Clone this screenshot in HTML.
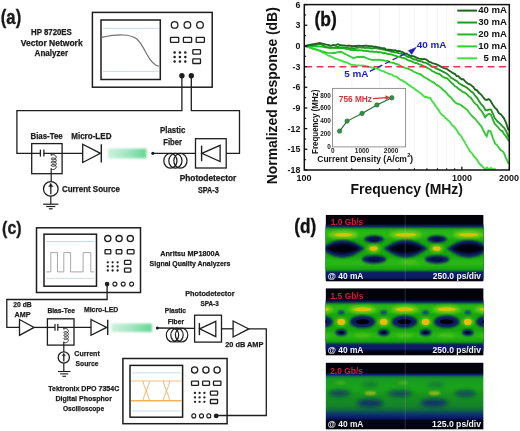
<!DOCTYPE html><html><head><meta charset="utf-8"><style>html,body{margin:0;padding:0;background:#fff;font-family:"Liberation Sans",sans-serif;}svg{display:block;will-change:transform;}</style></head><body>
<svg width="520" height="431" viewBox="0 0 520 431" font-family="Liberation Sans, sans-serif">
<defs>
<linearGradient id="gbar" x1="0" x2="1" y1="0" y2="0">
<stop offset="0" stop-color="#cdf1dd"/><stop offset="0.5" stop-color="#a2e5c0"/><stop offset="1" stop-color="#62d794"/></linearGradient>
<filter id="soft" x="-20%" y="-50%" width="140%" height="200%"><feGaussianBlur stdDeviation="0.7"/></filter>
<filter id="blur1" x="-20%" y="-50%" width="140%" height="200%"><feGaussianBlur stdDeviation="1.2"/></filter>
<filter id="blur2" x="-30%" y="-80%" width="160%" height="260%"><feGaussianBlur stdDeviation="2.2"/></filter>
<filter id="blur3" x="-30%" y="-80%" width="160%" height="260%"><feGaussianBlur stdDeviation="1.6"/></filter>
</defs>
<rect width="520" height="431" fill="#fff"/>
<text x="0.8" y="23.6" font-size="19.4" font-weight="bold" fill="#1a1a1a" textLength="20.4" lengthAdjust="spacingAndGlyphs" stroke="#1a1a1a" stroke-width="0.35">(a)</text>
<text x="51.4" y="34.8" font-size="8.2" font-weight="bold" fill="#1a1a1a" text-anchor="middle" textLength="40.8" lengthAdjust="spacingAndGlyphs" stroke="#1a1a1a" stroke-width="0.25">HP 8720ES</text>
<text x="51.7" y="45.6" font-size="8.2" font-weight="bold" fill="#1a1a1a" text-anchor="middle" textLength="61.9" lengthAdjust="spacingAndGlyphs" stroke="#1a1a1a" stroke-width="0.25">Vector Network</text>
<text x="51.4" y="55.8" font-size="8.2" font-weight="bold" fill="#1a1a1a" text-anchor="middle" textLength="33.7" lengthAdjust="spacingAndGlyphs" stroke="#1a1a1a" stroke-width="0.25">Analyzer</text>
<rect x="92.4" y="12.4" width="119.80" height="74.80" stroke="#1e1e1e" stroke-width="1.5" fill="none" rx="0"/>
<rect x="101" y="20" width="59.30" height="59.50" stroke="#1e1e1e" stroke-width="1.5" fill="none" rx="0"/>
<line x1="103" y1="28.4" x2="158.5" y2="28.4" stroke="#c6dde8" stroke-width="1"/>
<line x1="103" y1="71.4" x2="158.5" y2="71.4" stroke="#c6dde8" stroke-width="1"/>
<path d="M101.7,37.4 C110,35.6 117,34.8 123,35 C129,35.2 133,36.2 136.5,38.8 C141,42.5 144,49 147,54.5 C150,60 154,65.5 158.8,66.2" stroke="#707070" stroke-width="1.2" fill="none"/>
<circle cx="174.6" cy="24.9" r="3.3" stroke="#1e1e1e" stroke-width="1.3" fill="none"/>
<circle cx="187.4" cy="24.9" r="3.3" stroke="#1e1e1e" stroke-width="1.3" fill="none"/>
<circle cx="200" cy="24.9" r="3.3" stroke="#1e1e1e" stroke-width="1.3" fill="none"/>
<rect x="170.5" y="37.4" width="8.20" height="5.00" stroke="#1e1e1e" stroke-width="1.3" fill="none" rx="0.6"/>
<rect x="183.4" y="37.4" width="8.20" height="5.00" stroke="#1e1e1e" stroke-width="1.3" fill="none" rx="0.6"/>
<rect x="196.2" y="37.4" width="8.20" height="5.00" stroke="#1e1e1e" stroke-width="1.3" fill="none" rx="0.6"/>
<circle cx="174.6" cy="52.4" r="1.25" fill="#1e1e1e"/>
<circle cx="174.6" cy="56.9" r="1.25" fill="#1e1e1e"/>
<circle cx="174.6" cy="61.4" r="1.25" fill="#1e1e1e"/>
<circle cx="179.9" cy="52.4" r="1.25" fill="#1e1e1e"/>
<circle cx="179.9" cy="56.9" r="1.25" fill="#1e1e1e"/>
<circle cx="179.9" cy="61.4" r="1.25" fill="#1e1e1e"/>
<circle cx="185.3" cy="52.4" r="1.25" fill="#1e1e1e"/>
<circle cx="185.3" cy="56.9" r="1.25" fill="#1e1e1e"/>
<circle cx="185.3" cy="61.4" r="1.25" fill="#1e1e1e"/>
<rect x="192.8" y="49.7" width="7.70" height="4.40" stroke="#1e1e1e" stroke-width="1.3" fill="none" rx="0.6"/>
<rect x="192.8" y="58.9" width="7.70" height="4.60" stroke="#1e1e1e" stroke-width="1.3" fill="none" rx="0.6"/>
<circle cx="181.9" cy="75.7" r="2.7" fill="#1e1e1e"/>
<circle cx="191.3" cy="75.7" r="2.7" fill="#1e1e1e"/>
<polyline points="181.90,75.70 181.90,110.70 16.90,110.70 16.90,153.30 40.40,153.30" stroke="#1e1e1e" stroke-width="1.3" fill="none" stroke-linejoin="miter"/>
<line x1="43.9" y1="153.3" x2="82.7" y2="153.3" stroke="#1e1e1e" stroke-width="1.3"/>
<polyline points="191.30,75.70 191.30,110.70 239.50,110.70 239.50,153.30 226.20,153.30" stroke="#1e1e1e" stroke-width="1.3" fill="none" stroke-linejoin="miter"/>
<rect x="31.7" y="143.6" width="30.40" height="30.10" stroke="#1e1e1e" stroke-width="1.3" fill="none" rx="0"/>
<line x1="40.4" y1="149.6" x2="40.4" y2="156.6" stroke="#1e1e1e" stroke-width="1.3"/>
<line x1="43.9" y1="149.6" x2="43.9" y2="156.6" stroke="#1e1e1e" stroke-width="1.3"/>
<line x1="51.2" y1="153.3" x2="51.2" y2="155.2" stroke="#1e1e1e" stroke-width="1.1"/>
<polyline points="51.20,155.60 51.26,155.35 51.45,155.13 51.75,154.94 52.14,154.79 52.62,154.72 53.14,154.71 53.70,154.79 54.26,154.94 54.78,155.18 55.26,155.49 55.65,155.86 55.95,156.29 56.14,156.75 56.20,157.22 56.14,157.70 55.95,158.16 55.65,158.59 55.26,158.96 54.78,159.27 54.26,159.51 53.70,159.66 53.14,159.74 52.62,159.73 52.14,159.66 51.75,159.51 51.45,159.32 51.26,159.10 51.20,158.85 51.26,158.60 51.45,158.38 51.75,158.19 52.14,158.04 52.62,157.97 53.14,157.96 53.70,158.04 54.26,158.19 54.78,158.43 55.26,158.74 55.65,159.11 55.95,159.54 56.14,160.00 56.20,160.47 56.14,160.95 55.95,161.41 55.65,161.84 55.26,162.21 54.78,162.52 54.26,162.76 53.70,162.91 53.14,162.99 52.62,162.98 52.14,162.91 51.75,162.76 51.45,162.57 51.26,162.35 51.20,162.10 51.26,161.85 51.45,161.63 51.75,161.44 52.14,161.29 52.62,161.22 53.14,161.21 53.70,161.29 54.26,161.44 54.78,161.68 55.26,161.99 55.65,162.36 55.95,162.79 56.14,163.25 56.20,163.72 56.14,164.20 55.95,164.66 55.65,165.09 55.26,165.46 54.78,165.77 54.26,166.01 53.70,166.16 53.14,166.24 52.62,166.23 52.14,166.16 51.75,166.01 51.45,165.82 51.26,165.60 51.20,165.35 51.26,165.10 51.45,164.88 51.75,164.69 52.14,164.54 52.62,164.47 53.14,164.46 53.70,164.54 54.26,164.69 54.78,164.93 55.26,165.24 55.65,165.61 55.95,166.04 56.14,166.50 56.20,166.97 56.14,167.45 55.95,167.91 55.65,168.34 55.26,168.71 54.78,169.02 54.26,169.26 53.70,169.41 53.14,169.49 52.62,169.48 52.14,169.41 51.75,169.26 51.45,169.07 51.26,168.85 51.20,168.60" stroke="#1e1e1e" stroke-width="1.0" fill="none"/>
<line x1="51.2" y1="168.4" x2="51.2" y2="181.5" stroke="#1e1e1e" stroke-width="1.2"/>
<circle cx="50.8" cy="188.9" r="7.3" stroke="#1e1e1e" stroke-width="1.3" fill="none"/>
<line x1="50.8" y1="194.156" x2="50.8" y2="186.345" stroke="#1e1e1e" stroke-width="1.3"/>
<polygon points="50.80,183.06 48.61,186.71 52.99,186.71" stroke="#1e1e1e" stroke-width="0.3" fill="#1e1e1e" stroke-linejoin="miter"/>
<line x1="50.8" y1="196.2" x2="50.8" y2="204.2" stroke="#1e1e1e" stroke-width="1.2"/>
<line x1="43.199999999999996" y1="204.2" x2="58.4" y2="204.2" stroke="#1e1e1e" stroke-width="1.2"/>
<line x1="46.25" y1="206.5" x2="55.349999999999994" y2="206.5" stroke="#1e1e1e" stroke-width="1.2"/>
<line x1="48.9" y1="208.79999999999998" x2="52.699999999999996" y2="208.79999999999998" stroke="#1e1e1e" stroke-width="1.2"/>
<text x="30.5" y="139.4" font-size="8.2" font-weight="bold" fill="#1a1a1a" textLength="32.2" lengthAdjust="spacingAndGlyphs" stroke="#1a1a1a" stroke-width="0.25">Bias-Tee</text>
<text x="71.2" y="139.4" font-size="8.2" font-weight="bold" fill="#1a1a1a" textLength="40.3" lengthAdjust="spacingAndGlyphs" stroke="#1a1a1a" stroke-width="0.25">Micro-LED</text>
<text x="61.9" y="192" font-size="8.2" font-weight="bold" fill="#1a1a1a" textLength="58" lengthAdjust="spacingAndGlyphs" stroke="#1a1a1a" stroke-width="0.25">Current Source</text>
<polygon points="82.70,144.20 82.70,162.50 100.40,153.30" stroke="#1e1e1e" stroke-width="1.3" fill="none" stroke-linejoin="miter"/>
<line x1="101.3" y1="144.2" x2="101.3" y2="162.5" stroke="#1e1e1e" stroke-width="1.4"/>
<rect x="108" y="148.6" width="38.5" height="9.8" fill="url(#gbar)" filter="url(#blur1)"/>
<circle cx="152.9" cy="153.3" r="1.6" fill="#1e1e1e"/>
<line x1="152.9" y1="153.3" x2="195.5" y2="153.3" stroke="#1e1e1e" stroke-width="1.3"/>
<ellipse cx="170.4" cy="160.8" rx="6.6" ry="7.4" stroke="#1e1e1e" stroke-width="1.25" fill="none"/>
<ellipse cx="175.4" cy="160.8" rx="6.6" ry="7.4" stroke="#1e1e1e" stroke-width="1.25" fill="none"/>
<ellipse cx="180.4" cy="160.8" rx="6.6" ry="7.4" stroke="#1e1e1e" stroke-width="1.25" fill="none"/>
<rect x="195.5" y="138.7" width="30.70" height="29.30" stroke="#1e1e1e" stroke-width="1.3" fill="none" rx="0"/>
<line x1="201.6" y1="145.6" x2="201.6" y2="161.2" stroke="#1e1e1e" stroke-width="1.4"/>
<polygon points="201.80,153.30 220.10,145.30 220.10,161.50" stroke="#1e1e1e" stroke-width="1.3" fill="none" stroke-linejoin="miter"/>
<text x="160.1" y="133.1" font-size="8.2" font-weight="bold" fill="#1a1a1a" textLength="25.3" lengthAdjust="spacingAndGlyphs" stroke="#1a1a1a" stroke-width="0.25">Plastic</text>
<text x="163.2" y="144.6" font-size="8.2" font-weight="bold" fill="#1a1a1a" textLength="18.8" lengthAdjust="spacingAndGlyphs" stroke="#1a1a1a" stroke-width="0.25">Fiber</text>
<text x="179.7" y="180.8" font-size="8.2" font-weight="bold" fill="#1a1a1a" textLength="56.6" lengthAdjust="spacingAndGlyphs" stroke="#1a1a1a" stroke-width="0.25">Photodetector</text>
<text x="197.9" y="192.6" font-size="8.2" font-weight="bold" fill="#1a1a1a" textLength="20.8" lengthAdjust="spacingAndGlyphs" stroke="#1a1a1a" stroke-width="0.25">SPA-3</text>
<line x1="351.74" y1="5.6" x2="351.74" y2="169.0" stroke="#efefef" stroke-width="0.6"/>
<line x1="379.49" y1="5.6" x2="379.49" y2="169.0" stroke="#efefef" stroke-width="0.6"/>
<line x1="399.18" y1="5.6" x2="399.18" y2="169.0" stroke="#efefef" stroke-width="0.6"/>
<line x1="414.46" y1="5.6" x2="414.46" y2="169.0" stroke="#efefef" stroke-width="0.6"/>
<line x1="426.94" y1="5.6" x2="426.94" y2="169.0" stroke="#efefef" stroke-width="0.6"/>
<line x1="437.49" y1="5.6" x2="437.49" y2="169.0" stroke="#efefef" stroke-width="0.6"/>
<line x1="446.63" y1="5.6" x2="446.63" y2="169.0" stroke="#efefef" stroke-width="0.6"/>
<line x1="454.69" y1="5.6" x2="454.69" y2="169.0" stroke="#efefef" stroke-width="0.6"/>
<line x1="461.90" y1="5.6" x2="461.90" y2="169.0" stroke="#efefef" stroke-width="0.6"/>
<clipPath id="plotclip"><rect x="304.3" y="4.6" width="205.0" height="165.4"/></clipPath>
<g clip-path="url(#plotclip)" stroke-linejoin="round" stroke-linecap="round">
<polyline points="304.80,46.00 306.60,46.49 308.40,46.98 310.20,47.80 312.00,48.09 313.60,48.90 315.20,49.39 316.80,49.82 318.40,50.62 320.00,50.97 321.75,52.07 323.50,52.78 325.25,53.70 327.00,54.76 328.60,55.68 330.20,56.05 331.80,56.82 333.40,57.75 335.00,58.64 336.60,59.02 338.20,59.51 339.80,60.42 341.40,60.48 343.00,61.52 344.60,61.78 346.28,62.39 347.95,63.07 349.62,63.88 351.30,64.90 353.23,64.67 355.15,65.10 357.07,65.32 359.00,65.31 360.67,65.63 362.33,65.50 364.00,65.69 366.35,66.19 368.70,66.93 370.85,67.25 373.00,67.66 374.77,68.33 376.53,68.70 378.30,69.04 379.98,70.16 381.65,70.81 383.32,71.16 385.00,72.16 386.68,72.75 388.35,73.67 390.02,74.17 391.70,74.41 393.85,76.13 396.00,76.45 398.05,78.08 400.10,79.74 401.73,80.11 403.37,81.36 405.00,81.86 406.67,83.53 408.33,84.69 410.00,85.57 411.88,87.25 413.75,88.06 415.62,89.82 417.50,91.10 419.38,92.46 421.25,93.70 423.12,95.49 425.00,96.98 426.67,97.04 428.33,97.81 430.00,97.71 431.70,100.56 433.40,102.63 435.10,105.16 436.80,107.74 438.50,109.88 440.20,112.77 441.90,114.80 443.60,115.73 445.30,117.95 447.00,119.30 448.70,120.93 450.40,122.55 452.13,125.37 453.87,126.50 455.60,128.58 457.30,131.09 459.00,134.05 460.70,135.36 462.40,138.40 464.10,141.10 465.80,144.11 467.90,147.63 470.00,151.29 472.00,153.35 474.00,156.38 475.80,158.20 477.60,160.84 479.50,163.80 481.40,165.50 483.30,167.33 485.20,169.21 487.00,167.61 489.00,169.58 491.00,167.93 493.00,169.25 495.00,169.05" stroke="#40e040" stroke-width="1.85" fill="none" stroke-linejoin="miter"/>
<polyline points="304.80,46.00 306.60,46.51 308.40,47.03 310.20,47.68 312.00,48.43 313.60,48.78 315.20,49.17 316.80,49.70 318.40,50.21 320.00,50.38 322.00,51.37 324.00,51.87 326.00,52.49 328.00,52.90 330.00,53.15 331.67,53.05 333.33,52.79 335.00,52.97 336.93,52.33 338.87,51.99 340.80,51.74 342.70,52.65 344.60,53.71 346.80,54.73 349.00,55.89 351.15,56.98 353.30,57.94 355.20,57.61 357.10,56.88 359.00,56.95 360.60,56.95 362.20,56.79 363.80,57.02 365.43,57.72 367.07,58.37 368.70,58.82 370.85,59.61 373.00,59.98 374.77,59.74 376.53,59.92 378.30,59.77 379.98,59.90 381.65,60.22 383.32,60.28 385.00,60.87 386.60,60.75 388.20,61.06 389.80,62.29 391.87,62.62 393.93,62.99 396.00,64.04 397.93,64.29 399.85,65.48 401.77,66.62 403.70,67.25 405.80,68.06 407.90,68.60 410.00,69.67 411.88,70.32 413.75,71.78 415.62,72.38 417.50,73.49 419.38,73.97 421.25,74.81 423.12,76.38 425.00,77.52 426.80,78.53 428.60,79.64 430.40,80.80 432.20,81.87 433.90,82.59 435.60,84.22 437.30,85.33 439.00,86.25 440.95,87.82 442.90,89.69 444.85,91.24 446.80,93.33 448.90,95.86 451.00,97.43 453.00,100.15 455.00,102.32 457.00,103.55 459.00,104.06 461.00,105.14 463.07,106.71 465.13,108.23 467.20,109.80 469.13,112.47 471.07,114.95 473.00,116.97 475.13,118.87 477.27,121.51 479.40,124.12 481.20,126.01 483.00,129.73 484.85,133.29 486.70,136.31 488.50,130.57 490.40,130.97 493.00,138.52 495.20,143.64 497.10,145.10 499.00,147.96 500.60,150.03 502.20,150.94 503.80,152.75 506.00,158.20 508.40,163.06" stroke="#30cc30" stroke-width="1.85" fill="none" stroke-linejoin="miter"/>
<polyline points="304.80,46.00 306.60,45.86 308.40,45.86 310.20,45.90 312.00,46.30 313.90,46.28 315.80,45.97 317.70,46.34 319.60,46.44 321.40,46.68 323.20,46.93 325.00,47.42 326.67,47.35 328.33,47.42 330.00,48.04 331.67,47.91 333.33,47.88 335.00,48.13 336.80,47.83 338.60,48.04 340.40,47.98 342.70,48.13 345.00,48.65 346.97,49.04 348.93,49.37 350.90,49.95 352.60,49.81 354.30,49.98 356.00,49.86 357.77,50.47 359.53,50.20 361.30,50.37 363.65,50.71 366.00,51.19 367.93,51.04 369.87,51.61 371.80,51.50 373.44,51.72 375.08,51.92 376.72,51.72 378.36,52.25 380.00,52.24 381.63,52.36 383.27,53.28 384.90,53.03 386.53,53.54 388.17,54.03 389.80,54.15 391.87,54.55 393.93,55.32 396.00,55.95 397.93,56.74 399.85,56.68 401.77,57.68 403.70,57.96 405.80,58.85 407.90,60.20 410.00,60.81 411.75,61.46 413.50,62.26 415.25,63.02 417.00,63.14 418.78,64.08 420.56,64.73 422.34,65.49 424.12,66.45 425.90,66.95 427.93,68.20 429.97,69.31 432.00,71.00 433.75,71.60 435.50,72.68 437.25,73.64 439.00,73.72 440.95,75.20 442.90,76.78 444.85,77.78 446.80,78.06 448.90,80.04 451.00,82.43 453.00,84.01 455.00,86.27 457.00,87.26 459.00,89.22 461.00,90.57 463.07,92.12 465.13,92.54 467.20,94.69 469.13,96.65 471.07,97.98 473.00,101.03 475.13,103.65 477.27,105.11 479.40,108.64 481.33,110.72 483.27,113.72 485.20,117.31 487.50,114.49 489.20,113.85 490.90,114.60 492.80,119.47 494.70,123.96 496.60,125.64 498.50,127.72 500.40,130.24 502.30,131.05 504.15,134.23 506.00,136.41 508.60,140.53" stroke="#24b424" stroke-width="1.85" fill="none" stroke-linejoin="miter"/>
<polyline points="304.80,46.00 306.53,45.65 308.27,45.53 310.00,45.21 311.67,44.75 313.33,44.98 315.00,44.64 316.67,44.57 318.33,43.97 320.00,43.88 323.00,45.27 325.35,46.74 327.70,47.59 329.47,47.41 331.23,47.46 333.00,47.61 334.67,47.44 336.33,47.00 338.00,46.81 339.75,47.43 341.50,47.44 343.25,47.72 345.00,47.56 346.73,47.66 348.45,48.17 350.17,48.13 351.90,48.03 353.95,48.33 356.00,47.89 358.00,47.85 360.00,47.22 361.60,47.85 363.20,47.40 364.80,48.06 366.40,47.87 368.00,47.88 369.98,48.11 371.95,48.47 373.92,48.05 375.90,48.01 377.67,48.70 379.45,48.84 381.23,49.11 383.00,49.52 384.70,49.77 386.40,50.25 388.10,50.69 389.80,51.03 391.53,51.83 393.27,51.81 395.00,52.40 397.13,52.67 399.27,53.39 401.40,53.65 403.20,54.56 405.00,55.04 406.75,56.45 408.50,57.00 410.25,57.37 412.00,58.37 414.00,59.54 416.00,59.40 418.00,60.83 419.98,61.00 421.95,61.64 423.92,62.58 425.90,62.68 427.93,63.87 429.97,65.14 432.00,66.54 433.75,66.70 435.50,68.13 437.25,68.86 439.00,69.66 440.95,70.59 442.90,71.72 444.85,72.56 446.80,73.85 448.90,75.37 451.00,77.80 453.00,78.74 455.00,80.17 457.00,81.20 459.00,83.31 461.00,84.48 463.07,85.66 465.13,86.58 467.20,87.95 469.13,89.65 471.07,91.51 473.00,92.73 475.13,95.72 477.27,98.07 479.40,101.65 481.20,104.17 483.00,106.07 485.60,110.23 487.50,110.28 489.20,109.42 490.90,109.59 492.80,113.30 494.70,118.12 496.35,120.11 498.00,122.00 500.15,123.59 502.30,126.11 504.15,127.78 506.00,130.63 508.60,136.85" stroke="#1f9a1f" stroke-width="1.85" fill="none" stroke-linejoin="miter"/>
<polyline points="304.80,46.00 306.60,45.60 308.40,45.07 310.20,44.71 312.00,44.50 313.90,44.04 315.80,43.79 317.70,43.34 319.60,43.03 321.53,43.41 323.47,43.87 325.40,44.39 327.70,44.84 330.00,45.51 331.60,45.63 333.20,44.98 334.80,45.06 336.40,44.80 338.00,44.25 339.93,44.99 341.87,45.32 343.80,45.47 345.42,45.66 347.04,45.83 348.66,45.54 350.28,45.89 351.90,46.00 353.52,46.14 355.14,46.04 356.76,45.98 358.38,45.74 360.00,45.87 361.60,45.85 363.20,45.98 364.80,45.77 366.40,45.74 368.00,45.93 369.98,46.20 371.95,46.10 373.92,46.76 375.90,46.65 377.60,47.10 379.30,47.50 381.00,47.95 382.62,48.22 384.25,48.24 385.88,49.33 387.50,49.71 389.33,49.74 391.17,50.00 393.00,50.34 395.03,50.14 397.07,51.08 399.10,50.97 401.07,51.54 403.03,52.44 405.00,53.62 406.75,53.76 408.50,54.93 410.25,55.82 412.00,55.99 413.70,56.46 415.40,57.13 417.10,57.91 418.80,58.58 420.57,58.80 422.35,59.20 424.12,58.97 425.90,59.42 427.60,60.46 429.30,61.94 431.00,62.38 432.80,63.44 434.60,63.58 436.40,64.39 438.70,65.43 441.00,66.70 442.93,67.56 444.87,68.38 446.80,68.75 448.90,70.42 451.00,71.76 453.00,73.16 455.00,74.12 456.67,76.07 458.33,76.15 460.00,78.12 461.60,79.24 463.20,79.20 464.80,80.95 466.53,82.59 468.27,83.96 470.00,84.43 471.67,85.62 473.33,86.97 475.00,89.42 477.20,90.60 479.40,93.32 481.20,94.59 483.00,97.03 484.85,99.40 486.70,99.96 488.80,99.07 490.40,100.51 492.80,104.68 495.00,107.81 496.95,109.69 498.90,113.31 501.00,114.48 503.80,118.06 506.00,122.72 508.40,129.79" stroke="#1b661c" stroke-width="1.85" fill="none" stroke-linejoin="miter"/>
</g>
<line x1="305.2" y1="66.7" x2="509.3" y2="66.7" stroke="#e0354f" stroke-width="1.6" stroke-dasharray="6.9,4.5"/>
<rect x="304.3" y="4.6" width="205.00" height="165.40" stroke="#111" stroke-width="1.5" fill="none" rx="0"/>
<line x1="304.3" y1="170.00" x2="307.3" y2="170.00" stroke="#111" stroke-width="1.3"/>
<text x="300.3" y="173.00" font-size="8.8" font-weight="bold" fill="#111" text-anchor="end">-18</text>
<line x1="304.3" y1="149.32" x2="307.3" y2="149.32" stroke="#111" stroke-width="1.3"/>
<line x1="304.3" y1="159.66" x2="306.1" y2="159.66" stroke="#111" stroke-width="1.1"/>
<text x="300.3" y="152.32" font-size="8.8" font-weight="bold" fill="#111" text-anchor="end">-15</text>
<line x1="304.3" y1="128.65" x2="307.3" y2="128.65" stroke="#111" stroke-width="1.3"/>
<line x1="304.3" y1="138.99" x2="306.1" y2="138.99" stroke="#111" stroke-width="1.1"/>
<text x="300.3" y="131.65" font-size="8.8" font-weight="bold" fill="#111" text-anchor="end">-12</text>
<line x1="304.3" y1="107.97" x2="307.3" y2="107.97" stroke="#111" stroke-width="1.3"/>
<line x1="304.3" y1="118.31" x2="306.1" y2="118.31" stroke="#111" stroke-width="1.1"/>
<text x="300.3" y="110.97" font-size="8.8" font-weight="bold" fill="#111" text-anchor="end">-9</text>
<line x1="304.3" y1="87.30" x2="307.3" y2="87.30" stroke="#111" stroke-width="1.3"/>
<line x1="304.3" y1="97.64" x2="306.1" y2="97.64" stroke="#111" stroke-width="1.1"/>
<text x="300.3" y="90.30" font-size="8.8" font-weight="bold" fill="#111" text-anchor="end">-6</text>
<line x1="304.3" y1="66.62" x2="307.3" y2="66.62" stroke="#111" stroke-width="1.3"/>
<line x1="304.3" y1="76.96" x2="306.1" y2="76.96" stroke="#111" stroke-width="1.1"/>
<text x="300.3" y="69.62" font-size="8.8" font-weight="bold" fill="#111" text-anchor="end">-3</text>
<line x1="304.3" y1="45.95" x2="307.3" y2="45.95" stroke="#111" stroke-width="1.3"/>
<line x1="304.3" y1="56.29" x2="306.1" y2="56.29" stroke="#111" stroke-width="1.1"/>
<text x="300.3" y="48.95" font-size="8.8" font-weight="bold" fill="#111" text-anchor="end">0</text>
<line x1="304.3" y1="25.27" x2="307.3" y2="25.27" stroke="#111" stroke-width="1.3"/>
<line x1="304.3" y1="35.61" x2="306.1" y2="35.61" stroke="#111" stroke-width="1.1"/>
<text x="300.3" y="28.27" font-size="8.8" font-weight="bold" fill="#111" text-anchor="end">3</text>
<line x1="304.3" y1="4.60" x2="307.3" y2="4.60" stroke="#111" stroke-width="1.3"/>
<line x1="304.3" y1="14.94" x2="306.1" y2="14.94" stroke="#111" stroke-width="1.1"/>
<text x="300.3" y="7.60" font-size="8.8" font-weight="bold" fill="#111" text-anchor="end">6</text>
<line x1="351.74" y1="170.0" x2="351.74" y2="168.2" stroke="#111" stroke-width="1.1"/>
<line x1="379.49" y1="170.0" x2="379.49" y2="168.2" stroke="#111" stroke-width="1.1"/>
<line x1="399.18" y1="170.0" x2="399.18" y2="168.2" stroke="#111" stroke-width="1.1"/>
<line x1="414.46" y1="170.0" x2="414.46" y2="168.2" stroke="#111" stroke-width="1.1"/>
<line x1="426.94" y1="170.0" x2="426.94" y2="168.2" stroke="#111" stroke-width="1.1"/>
<line x1="437.49" y1="170.0" x2="437.49" y2="168.2" stroke="#111" stroke-width="1.1"/>
<line x1="446.63" y1="170.0" x2="446.63" y2="168.2" stroke="#111" stroke-width="1.1"/>
<line x1="454.69" y1="170.0" x2="454.69" y2="168.2" stroke="#111" stroke-width="1.1"/>
<line x1="509.34" y1="170.0" x2="509.34" y2="168.2" stroke="#111" stroke-width="1.1"/>
<line x1="461.90" y1="170.0" x2="461.90" y2="166.8" stroke="#111" stroke-width="1.3"/>
<text x="304.1" y="181.0" font-size="9" font-weight="bold" fill="#111" text-anchor="middle">100</text>
<text x="461.9" y="181.0" font-size="9" font-weight="bold" fill="#111" text-anchor="middle">1000</text>
<text x="509" y="181.0" font-size="9" font-weight="bold" fill="#111" text-anchor="middle">2000</text>
<text x="350.5" y="193.8" font-size="14.5" font-weight="bold" fill="#111" textLength="112.5" lengthAdjust="spacingAndGlyphs">Frequency (MHz)</text>
<text transform="translate(276.7,184.2) rotate(-90)" font-size="15" font-weight="bold" fill="#111" textLength="177" lengthAdjust="spacingAndGlyphs">Normalized Response (dB)</text>
<text x="314.5" y="25.9" font-size="19.3" font-weight="bold" fill="#111" textLength="22.3" lengthAdjust="spacingAndGlyphs" stroke="#111" stroke-width="0.35">(b)</text>
<line x1="457.3" y1="10.60" x2="477.1" y2="10.60" stroke="#1b661c" stroke-width="2"/>
<text x="507" y="13.30" font-size="9.6" font-weight="bold" fill="#111" text-anchor="end">40 mA</text>
<line x1="457.3" y1="22.53" x2="477.1" y2="22.53" stroke="#1f9a1f" stroke-width="2"/>
<text x="507" y="25.23" font-size="9.6" font-weight="bold" fill="#111" text-anchor="end">30 mA</text>
<line x1="457.3" y1="34.46" x2="477.1" y2="34.46" stroke="#24b424" stroke-width="2"/>
<text x="507" y="37.16" font-size="9.6" font-weight="bold" fill="#111" text-anchor="end">20 mA</text>
<line x1="457.3" y1="46.39" x2="477.1" y2="46.39" stroke="#30cc30" stroke-width="2"/>
<text x="507" y="49.09" font-size="9.6" font-weight="bold" fill="#111" text-anchor="end">10 mA</text>
<line x1="457.3" y1="58.32" x2="477.1" y2="58.32" stroke="#40e040" stroke-width="2"/>
<text x="507" y="61.02" font-size="9.6" font-weight="bold" fill="#111" text-anchor="end">5 mA</text>
<text x="416.8" y="48.3" font-size="9.8" font-weight="bold" fill="#2020c0" textLength="29.7" lengthAdjust="spacingAndGlyphs">40 mA</text>
<text x="344.2" y="77.4" font-size="9.8" font-weight="bold" fill="#2020c0" textLength="24.3" lengthAdjust="spacingAndGlyphs">5 mA</text>
<line x1="369.8" y1="71.4" x2="405.2" y2="53.6" stroke="#2020c0" stroke-width="1.3" stroke-dasharray="5.5,3"/>
<polygon points="416.20,47.40 408.40,50.60 411.60,54.40" stroke="#2020c0" stroke-width="0.6" fill="#2020c0" stroke-linejoin="miter"/>
<rect x="332.5" y="88.4" width="73.10" height="58.50" stroke="#8a8a8a" stroke-width="0.9" fill="#fff" rx="0"/>
<text x="330.8" y="149.20" font-size="6.4" font-weight="bold" fill="#222" text-anchor="end">0</text>
<text x="330.8" y="136.28" font-size="6.4" font-weight="bold" fill="#222" text-anchor="end">200</text>
<text x="330.8" y="123.35" font-size="6.4" font-weight="bold" fill="#222" text-anchor="end">400</text>
<text x="330.8" y="110.42" font-size="6.4" font-weight="bold" fill="#222" text-anchor="end">600</text>
<text x="330.8" y="97.50" font-size="6.4" font-weight="bold" fill="#222" text-anchor="end">800</text>
<text x="332.90" y="153.1" font-size="6.5" font-weight="bold" fill="#222" text-anchor="middle">0</text>
<text x="362.00" y="153.1" font-size="6.5" font-weight="bold" fill="#222" text-anchor="middle">1000</text>
<text x="391.10" y="153.1" font-size="6.5" font-weight="bold" fill="#222" text-anchor="middle">2000</text>
<polyline points="339.60,131.10 347.10,121.10 362.00,113.40 376.90,104.90 391.80,97.80" stroke="#1d6b2a" stroke-width="1.1" fill="none" stroke-linejoin="miter"/>
<circle cx="339.6" cy="131.1" r="2.2" fill="#32934a" stroke="#1d5e2a" stroke-width="0.6"/>
<circle cx="347.1" cy="121.1" r="2.2" fill="#32934a" stroke="#1d5e2a" stroke-width="0.6"/>
<circle cx="362.0" cy="113.4" r="2.2" fill="#32934a" stroke="#1d5e2a" stroke-width="0.6"/>
<circle cx="376.9" cy="104.9" r="2.2" fill="#32934a" stroke="#1d5e2a" stroke-width="0.6"/>
<circle cx="391.8" cy="97.8" r="2.2" fill="#32934a" stroke="#1d5e2a" stroke-width="0.6"/>
<text x="338.8" y="101.5" font-size="8.4" font-weight="bold" fill="#d9303a" textLength="33.2" lengthAdjust="spacingAndGlyphs">756 MHz</text>
<line x1="373" y1="98.6" x2="386.5" y2="97.6" stroke="#d9303a" stroke-width="1.1"/>
<polygon points="390.00,97.40 385.50,95.60 385.80,99.60" stroke="#d9303a" stroke-width="0.3" fill="#d9303a" stroke-linejoin="miter"/>
<text x="317.3" y="161.5" font-size="9.3" font-weight="bold" fill="#111" textLength="89.6" lengthAdjust="spacingAndGlyphs">Current Density (A/cm</text>
<text x="407.2" y="157.3" font-size="5.6" font-weight="bold" fill="#111">2</text>
<text x="409.9" y="161.5" font-size="9.3" font-weight="bold" fill="#111">)</text>
<text transform="translate(317.6,154) rotate(-90)" font-size="8.6" font-weight="bold" fill="#111" textLength="64.3" lengthAdjust="spacingAndGlyphs">Frequency (MHz)</text>
<text x="2.1" y="233.6" font-size="19.0" font-weight="bold" fill="#1a1a1a" textLength="19.5" lengthAdjust="spacingAndGlyphs" stroke="#1a1a1a" stroke-width="0.35">(c)</text>
<rect x="36.5" y="227.8" width="104.00" height="64.70" stroke="#1e1e1e" stroke-width="1.5" fill="none" rx="0"/>
<rect x="44" y="234.2" width="52.50" height="52.00" stroke="#1e1e1e" stroke-width="1.5" fill="none" rx="0"/>
<line x1="46" y1="241.5" x2="94.5" y2="241.5" stroke="#c6dde8" stroke-width="1"/>
<line x1="46" y1="278.3" x2="94.5" y2="278.3" stroke="#c6dde8" stroke-width="1"/>
<path d="M46.2,271.9 H50.8 V252.6 H57.5 V271.9 H63.8 V252.6 H70.6 V271.9 H83.1 V252.6 H90.8 V271.9 H94.2" stroke="#a8a8a8" stroke-width="1" fill="none"/>
<circle cx="107.8" cy="238.6" r="3.1" stroke="#1e1e1e" stroke-width="1.3" fill="none"/>
<circle cx="119.1" cy="238.6" r="3.1" stroke="#1e1e1e" stroke-width="1.3" fill="none"/>
<circle cx="130.3" cy="238.6" r="3.1" stroke="#1e1e1e" stroke-width="1.3" fill="none"/>
<rect x="105" y="249.7" width="5.80" height="4.20" stroke="#1e1e1e" stroke-width="1.3" fill="none" rx="0.6"/>
<rect x="116.2" y="249.7" width="5.60" height="4.20" stroke="#1e1e1e" stroke-width="1.3" fill="none" rx="0.6"/>
<rect x="127.3" y="249.7" width="6.70" height="4.20" stroke="#1e1e1e" stroke-width="1.3" fill="none" rx="0.6"/>
<circle cx="107.8" cy="262.3" r="1.15" fill="#1e1e1e"/>
<circle cx="107.8" cy="266.4" r="1.15" fill="#1e1e1e"/>
<circle cx="107.8" cy="270.5" r="1.15" fill="#1e1e1e"/>
<circle cx="112.6" cy="262.3" r="1.15" fill="#1e1e1e"/>
<circle cx="112.6" cy="266.4" r="1.15" fill="#1e1e1e"/>
<circle cx="112.6" cy="270.5" r="1.15" fill="#1e1e1e"/>
<circle cx="117.6" cy="262.3" r="1.15" fill="#1e1e1e"/>
<circle cx="117.6" cy="266.4" r="1.15" fill="#1e1e1e"/>
<circle cx="117.6" cy="270.5" r="1.15" fill="#1e1e1e"/>
<rect x="124.5" y="260.4" width="6.30" height="3.90" stroke="#1e1e1e" stroke-width="1.3" fill="none" rx="0.6"/>
<rect x="124.5" y="268.2" width="6.30" height="4.00" stroke="#1e1e1e" stroke-width="1.3" fill="none" rx="0.6"/>
<circle cx="107.1" cy="284.1" r="2.3" fill="#1e1e1e"/>
<circle cx="114.9" cy="284.1" r="2.0" stroke="#1e1e1e" stroke-width="1.1" fill="none"/>
<circle cx="123.2" cy="284.1" r="2.0" stroke="#1e1e1e" stroke-width="1.1" fill="none"/>
<circle cx="131.6" cy="284.1" r="2.0" stroke="#1e1e1e" stroke-width="1.1" fill="none"/>
<polyline points="107.10,284.10 107.10,299.50 6.80,299.50 6.80,327.40 19.50,327.40" stroke="#1e1e1e" stroke-width="1.3" fill="none" stroke-linejoin="miter"/>
<text x="160.2" y="255.8" font-size="7.6" font-weight="bold" fill="#1a1a1a" textLength="59.6" lengthAdjust="spacingAndGlyphs" stroke="#1a1a1a" stroke-width="0.25">Anritsu MP1800A</text>
<text x="149.6" y="265.7" font-size="7.6" font-weight="bold" fill="#1a1a1a" textLength="80.8" lengthAdjust="spacingAndGlyphs" stroke="#1a1a1a" stroke-width="0.25">Signal Quality Analyzers</text>
<polygon points="19.50,319.50 19.50,335.30 34.10,327.40" stroke="#1e1e1e" stroke-width="1.3" fill="none" stroke-linejoin="miter"/>
<line x1="34.1" y1="327.4" x2="55.0" y2="327.4" stroke="#1e1e1e" stroke-width="1.3"/>
<line x1="57.8" y1="327.4" x2="91" y2="327.4" stroke="#1e1e1e" stroke-width="1.3"/>
<text x="13.2" y="307.4" font-size="7.6" font-weight="bold" fill="#1a1a1a" textLength="18.5" lengthAdjust="spacingAndGlyphs" stroke="#1a1a1a" stroke-width="0.25">20 dB</text>
<text x="14.6" y="317.4" font-size="7.6" font-weight="bold" fill="#1a1a1a" textLength="16" lengthAdjust="spacingAndGlyphs" stroke="#1a1a1a" stroke-width="0.25">AMP</text>
<rect x="47.4" y="318.8" width="26.60" height="26.30" stroke="#1e1e1e" stroke-width="1.3" fill="none" rx="0"/>
<line x1="55.0" y1="324.0" x2="55.0" y2="330.8" stroke="#1e1e1e" stroke-width="1.2"/>
<line x1="57.8" y1="324.0" x2="57.8" y2="330.8" stroke="#1e1e1e" stroke-width="1.2"/>
<line x1="63.8" y1="327.4" x2="63.8" y2="329.2" stroke="#1e1e1e" stroke-width="1.0"/>
<polyline points="63.80,329.40 63.86,329.17 64.03,328.95 64.30,328.77 64.67,328.63 65.10,328.56 65.59,328.55 66.10,328.62 66.61,328.77 67.10,329.00 67.53,329.30 67.90,329.65 68.17,330.06 68.34,330.49 68.40,330.95 68.34,331.41 68.17,331.84 67.90,332.25 67.53,332.60 67.10,332.90 66.61,333.13 66.10,333.27 65.59,333.35 65.10,333.34 64.67,333.27 64.30,333.13 64.03,332.95 63.86,332.73 63.80,332.50 63.86,332.27 64.03,332.05 64.30,331.87 64.67,331.73 65.10,331.66 65.59,331.65 66.10,331.72 66.61,331.87 67.10,332.10 67.53,332.40 67.90,332.75 68.17,333.16 68.34,333.59 68.40,334.05 68.34,334.51 68.17,334.94 67.90,335.35 67.53,335.70 67.10,336.00 66.61,336.23 66.10,336.38 65.59,336.45 65.10,336.44 64.67,336.37 64.30,336.23 64.03,336.05 63.86,335.83 63.80,335.60 63.86,335.37 64.03,335.15 64.30,334.97 64.67,334.83 65.10,334.76 65.59,334.75 66.10,334.82 66.61,334.97 67.10,335.20 67.53,335.50 67.90,335.85 68.17,336.26 68.34,336.69 68.40,337.15 68.34,337.61 68.17,338.04 67.90,338.45 67.53,338.80 67.10,339.10 66.61,339.33 66.10,339.48 65.59,339.55 65.10,339.54 64.67,339.47 64.30,339.33 64.03,339.15 63.86,338.93 63.80,338.70 63.86,338.47 64.03,338.25 64.30,338.07 64.67,337.93 65.10,337.86 65.59,337.85 66.10,337.93 66.61,338.07 67.10,338.30 67.53,338.60 67.90,338.95 68.17,339.36 68.34,339.79 68.40,340.25 68.34,340.71 68.17,341.14 67.90,341.55 67.53,341.90 67.10,342.20 66.61,342.43 66.10,342.58 65.59,342.65 65.10,342.64 64.67,342.57 64.30,342.43 64.03,342.25 63.86,342.03 63.80,341.80" stroke="#1e1e1e" stroke-width="0.9" fill="none"/>
<line x1="63.8" y1="341.8" x2="63.8" y2="351.9" stroke="#1e1e1e" stroke-width="1.2"/>
<circle cx="63.8" cy="357.5" r="5.6" stroke="#1e1e1e" stroke-width="1.3" fill="none"/>
<line x1="63.8" y1="361.532" x2="63.8" y2="355.54" stroke="#1e1e1e" stroke-width="1.3"/>
<polygon points="63.80,353.02 62.12,355.82 65.48,355.82" stroke="#1e1e1e" stroke-width="0.3" fill="#1e1e1e" stroke-linejoin="miter"/>
<line x1="63.8" y1="363.1" x2="63.8" y2="371.5" stroke="#1e1e1e" stroke-width="1.2"/>
<line x1="57.95" y1="371.5" x2="70.45" y2="371.5" stroke="#1e1e1e" stroke-width="1.1"/>
<line x1="60.2" y1="373.9" x2="68.2" y2="373.9" stroke="#1e1e1e" stroke-width="1.1"/>
<line x1="62.400000000000006" y1="376.3" x2="66.0" y2="376.3" stroke="#1e1e1e" stroke-width="1.1"/>
<text x="47.4" y="313" font-size="7.6" font-weight="bold" fill="#1a1a1a" textLength="27.5" lengthAdjust="spacingAndGlyphs" stroke="#1a1a1a" stroke-width="0.25">Bias-Tee</text>
<text x="84" y="312.2" font-size="7.6" font-weight="bold" fill="#1a1a1a" textLength="34.3" lengthAdjust="spacingAndGlyphs" stroke="#1a1a1a" stroke-width="0.25">Micro-LED</text>
<text x="74.3" y="355.8" font-size="7.6" font-weight="bold" fill="#1a1a1a" textLength="25.5" lengthAdjust="spacingAndGlyphs" stroke="#1a1a1a" stroke-width="0.25">Current</text>
<text x="75.6" y="365.9" font-size="7.6" font-weight="bold" fill="#1a1a1a" textLength="22.9" lengthAdjust="spacingAndGlyphs" stroke="#1a1a1a" stroke-width="0.25">Source</text>
<polygon points="91.00,319.50 91.00,335.30 106.60,327.40" stroke="#1e1e1e" stroke-width="1.3" fill="none" stroke-linejoin="miter"/>
<line x1="107.7" y1="319.7" x2="107.7" y2="335.1" stroke="#1e1e1e" stroke-width="1.4"/>
<rect x="111.2" y="323.6" width="40.7" height="8.4" fill="url(#gbar)" filter="url(#blur1)"/>
<circle cx="157.3" cy="328" r="1.5" fill="#1e1e1e"/>
<line x1="157.3" y1="328" x2="194.6" y2="328.4" stroke="#1e1e1e" stroke-width="1.3"/>
<ellipse cx="172.5" cy="335.1" rx="6.2" ry="6.9" stroke="#1e1e1e" stroke-width="1.2" fill="none"/>
<ellipse cx="177.0" cy="335.1" rx="6.2" ry="6.9" stroke="#1e1e1e" stroke-width="1.2" fill="none"/>
<ellipse cx="181.6" cy="335.1" rx="6.2" ry="6.9" stroke="#1e1e1e" stroke-width="1.2" fill="none"/>
<text x="164.8" y="313.3" font-size="7.6" font-weight="bold" fill="#1a1a1a" textLength="21.2" lengthAdjust="spacingAndGlyphs" stroke="#1a1a1a" stroke-width="0.25">Plastic</text>
<text x="167.7" y="323.5" font-size="7.6" font-weight="bold" fill="#1a1a1a" textLength="16.3" lengthAdjust="spacingAndGlyphs" stroke="#1a1a1a" stroke-width="0.25">Fiber</text>
<rect x="194.6" y="315.2" width="26.90" height="26.90" stroke="#1e1e1e" stroke-width="1.3" fill="none" rx="0"/>
<line x1="199.4" y1="323.1" x2="199.4" y2="335.2" stroke="#1e1e1e" stroke-width="1.4"/>
<polygon points="199.60,328.80 215.80,321.30 215.80,336.60" stroke="#1e1e1e" stroke-width="1.3" fill="none" stroke-linejoin="miter"/>
<text x="185.2" y="296.2" font-size="7.6" font-weight="bold" fill="#1a1a1a" textLength="49.4" lengthAdjust="spacingAndGlyphs" stroke="#1a1a1a" stroke-width="0.25">Photodetector</text>
<text x="200.4" y="306.2" font-size="7.6" font-weight="bold" fill="#1a1a1a" textLength="18.3" lengthAdjust="spacingAndGlyphs" stroke="#1a1a1a" stroke-width="0.25">SPA-3</text>
<line x1="221.5" y1="328.8" x2="233.1" y2="328.8" stroke="#1e1e1e" stroke-width="1.3"/>
<polygon points="233.10,321.00 233.10,337.00 248.80,328.90" stroke="#1e1e1e" stroke-width="1.3" fill="none" stroke-linejoin="miter"/>
<polyline points="248.80,328.90 266.30,328.90 266.30,415.50 216.20,415.50" stroke="#1e1e1e" stroke-width="1.3" fill="none" stroke-linejoin="miter"/>
<text x="225.2" y="347.3" font-size="7.6" font-weight="bold" fill="#1a1a1a" textLength="38.2" lengthAdjust="spacingAndGlyphs" stroke="#1a1a1a" stroke-width="0.25">20 dB AMP</text>
<rect x="122.9" y="358.5" width="104.20" height="65.20" stroke="#1e1e1e" stroke-width="1.5" fill="none" rx="0"/>
<rect x="130" y="365.4" width="52.60" height="51.80" stroke="#1e1e1e" stroke-width="1.5" fill="none" rx="0"/>
<line x1="132" y1="372.9" x2="180.6" y2="372.9" stroke="#c6dde8" stroke-width="1"/>
<line x1="132" y1="411" x2="180.6" y2="411" stroke="#c6dde8" stroke-width="1"/>
<line x1="131" y1="381" x2="181.6" y2="381" stroke="#f2bf7e" stroke-width="1.1"/>
<line x1="131" y1="400.8" x2="181.6" y2="400.8" stroke="#f2b258" stroke-width="1.4"/>
<path d="M142.79999999999998,381 C144.0,387 148.39999999999998,395 149.6,400.8 M149.6,381 C148.39999999999998,387 144.0,395 142.79999999999998,400.8" stroke="#eab26a" stroke-width="0.9" fill="none"/>
<path d="M163.1,381 C164.3,387 168.7,395 169.9,400.8 M169.9,381 C168.7,387 164.3,395 163.1,400.8" stroke="#eab26a" stroke-width="0.9" fill="none"/>
<circle cx="194.6" cy="370" r="3.1" stroke="#1e1e1e" stroke-width="1.3" fill="none"/>
<circle cx="205.9" cy="370" r="3.1" stroke="#1e1e1e" stroke-width="1.3" fill="none"/>
<circle cx="217.1" cy="370" r="3.1" stroke="#1e1e1e" stroke-width="1.3" fill="none"/>
<rect x="191.5" y="381.1" width="7.00" height="4.30" stroke="#1e1e1e" stroke-width="1.3" fill="none" rx="0.6"/>
<rect x="202.6" y="381.1" width="6.90" height="4.30" stroke="#1e1e1e" stroke-width="1.3" fill="none" rx="0.6"/>
<rect x="213.5" y="381.1" width="7.40" height="4.30" stroke="#1e1e1e" stroke-width="1.3" fill="none" rx="0.6"/>
<circle cx="195" cy="392.9" r="1.15" fill="#1e1e1e"/>
<circle cx="195" cy="397.4" r="1.15" fill="#1e1e1e"/>
<circle cx="195" cy="401.8" r="1.15" fill="#1e1e1e"/>
<circle cx="199.6" cy="392.9" r="1.15" fill="#1e1e1e"/>
<circle cx="199.6" cy="397.4" r="1.15" fill="#1e1e1e"/>
<circle cx="199.6" cy="401.8" r="1.15" fill="#1e1e1e"/>
<circle cx="204.4" cy="392.9" r="1.15" fill="#1e1e1e"/>
<circle cx="204.4" cy="397.4" r="1.15" fill="#1e1e1e"/>
<circle cx="204.4" cy="401.8" r="1.15" fill="#1e1e1e"/>
<rect x="210.4" y="391.2" width="7.20" height="4.00" stroke="#1e1e1e" stroke-width="1.3" fill="none" rx="0.6"/>
<rect x="210.4" y="399.5" width="7.20" height="4.00" stroke="#1e1e1e" stroke-width="1.3" fill="none" rx="0.6"/>
<circle cx="193.8" cy="415.9" r="2.0" stroke="#1e1e1e" stroke-width="1.1" fill="none"/>
<circle cx="201.5" cy="415.9" r="2.0" stroke="#1e1e1e" stroke-width="1.1" fill="none"/>
<circle cx="208.8" cy="415.9" r="2.0" stroke="#1e1e1e" stroke-width="1.1" fill="none"/>
<circle cx="216.2" cy="415.9" r="2.4" fill="#1e1e1e"/>
<text x="48.2" y="391.2" font-size="7.6" font-weight="bold" fill="#1a1a1a" textLength="71.1" lengthAdjust="spacingAndGlyphs" stroke="#1a1a1a" stroke-width="0.25">Tektronix DPO 7354C</text>
<text x="55.5" y="401.4" font-size="7.6" font-weight="bold" fill="#1a1a1a" textLength="56.4" lengthAdjust="spacingAndGlyphs" stroke="#1a1a1a" stroke-width="0.25">Digital Phosphor</text>
<text x="62.9" y="411.1" font-size="7.6" font-weight="bold" fill="#1a1a1a" textLength="41.2" lengthAdjust="spacingAndGlyphs" stroke="#1a1a1a" stroke-width="0.25">Oscilloscope</text>
<text x="294.3" y="232.9" font-size="19.3" font-weight="bold" fill="#111" textLength="22.0" lengthAdjust="spacingAndGlyphs" stroke="#111" stroke-width="0.35">(d)</text>
<clipPath id="eyeclip1"><rect x="325.6" y="214.8" width="158.0" height="66.80000000000001"/></clipPath>
<filter id="eb1" x="-20%" y="-40%" width="140%" height="180%"><feGaussianBlur stdDeviation="1.3"/></filter>
<g clip-path="url(#eyeclip1)">
<rect x="325.6" y="214.8" width="158.0" height="66.80000000000001" fill="#01020a"/>
<rect x="315.6" y="224.8" width="178.0" height="54.19999999999999" fill="#0a1a66" filter="url(#blur1)"/>
<rect x="315.6" y="227.8" width="178.0" height="43.19999999999999" fill="#14a60e" filter="url(#blur1)"/>
<rect x="315.6" y="229.5" width="178.0" height="9.0" fill="#2ebc14" opacity="0.8" filter="url(#blur3)"/>
<rect x="315.6" y="258.5" width="178.0" height="8.0" fill="#2ebc14" opacity="0.8" filter="url(#blur3)"/>
<ellipse cx="343" cy="234.8" rx="15" ry="4.2" fill="#7ccc14" opacity="0.85" filter="url(#blur3)"/>
<ellipse cx="405.7" cy="234.8" rx="16" ry="4.2" fill="#7ccc14" opacity="0.85" filter="url(#blur3)"/>
<ellipse cx="468.5" cy="234.8" rx="15" ry="4.2" fill="#7ccc14" opacity="0.85" filter="url(#blur3)"/>
<ellipse cx="373.7" cy="248.6" rx="7" ry="4.5" fill="#7ccc14" opacity="0.7" filter="url(#blur3)"/>
<ellipse cx="436.7" cy="248.6" rx="7" ry="4.5" fill="#7ccc14" opacity="0.7" filter="url(#blur3)"/>
<ellipse cx="409" cy="262.3" rx="9" ry="2.5" fill="#5cc41a" opacity="0.6" filter="url(#blur3)"/>
<g filter="url(#eb1)"><path d="M320.90,248.60 Q342.70,231.40 364.50,248.60 Q342.70,266.20 320.90,248.60 Z" fill="#0a1a66"/><path d="M383.90,248.60 Q405.70,231.40 427.50,248.60 Q405.70,266.20 383.90,248.60 Z" fill="#0a1a66"/><path d="M446.90,248.60 Q468.70,231.40 490.50,248.60 Q468.70,266.20 446.90,248.60 Z" fill="#0a1a66"/><ellipse cx="374.0" cy="239.2" rx="9.6" ry="3.7" fill="#0a1a66"/><ellipse cx="374.2" cy="259.4" rx="12.0" ry="4.0" fill="#0a1a66"/><ellipse cx="437.0" cy="239.2" rx="9.6" ry="3.7" fill="#0a1a66"/><ellipse cx="437.2" cy="259.4" rx="12.0" ry="4.0" fill="#0a1a66"/></g>
<g filter="url(#blur1)"><path d="M325.70,248.60 Q342.70,239.14 359.70,248.60 Q342.70,258.28 325.70,248.60 Z" fill="#01020a"/><path d="M388.70,248.60 Q405.70,239.14 422.70,248.60 Q405.70,258.28 388.70,248.60 Z" fill="#01020a"/><path d="M451.70,248.60 Q468.70,239.14 485.70,248.60 Q468.70,258.28 451.70,248.60 Z" fill="#01020a"/><ellipse cx="374.0" cy="239.2" rx="4.80" ry="1.48" fill="#040830"/><ellipse cx="374.2" cy="259.4" rx="6.00" ry="1.60" fill="#040830"/><ellipse cx="437.0" cy="239.2" rx="4.80" ry="1.48" fill="#040830"/><ellipse cx="437.2" cy="259.4" rx="6.00" ry="1.60" fill="#040830"/></g>
<ellipse cx="343.5" cy="234.8" rx="9" ry="1.8" fill="#dcc406" opacity="0.95" filter="url(#soft)"/>
<ellipse cx="405.7" cy="234.8" rx="10.5" ry="1.8" fill="#dcc406" opacity="0.95" filter="url(#soft)"/>
<ellipse cx="468.5" cy="234.8" rx="10" ry="1.8" fill="#dcc406" opacity="0.95" filter="url(#soft)"/>
<ellipse cx="373.7" cy="248.6" rx="4.0" ry="2.4" fill="#f0b808" opacity="1" filter="url(#soft)"/>
<ellipse cx="436.7" cy="248.6" rx="4.0" ry="2.4" fill="#f0b808" opacity="1" filter="url(#soft)"/>
<line x1="405.2" y1="214.8" x2="405.2" y2="281.6" stroke="#a8a8c0" stroke-width="0.7" opacity="0.35"/>
</g>
<clipPath id="eyeclip2"><rect x="325.6" y="288.2" width="158.0" height="67.40000000000003"/></clipPath>
<g clip-path="url(#eyeclip2)">
<rect x="325.6" y="288.2" width="158.0" height="67.40000000000003" fill="#01020a"/>
<rect x="315.6" y="300.4" width="178.0" height="50.0" fill="#0a1a66" filter="url(#blur1)"/>
<rect x="315.6" y="303.2" width="178.0" height="40.0" fill="#14a60e" filter="url(#blur1)"/>
<rect x="315.6" y="305" width="178.0" height="8" fill="#2ebc14" opacity="0.8" filter="url(#blur3)"/>
<rect x="315.6" y="332" width="178.0" height="7" fill="#2ebc14" opacity="0.7" filter="url(#blur3)"/>
<ellipse cx="320.0" cy="309.4" rx="13.5" ry="4.2" fill="#7ccc14" opacity="0.85" filter="url(#blur3)"/>
<ellipse cx="320.0" cy="335.5" rx="9" ry="2.6" fill="#5cc41a" opacity="0.6" filter="url(#blur3)"/>
<ellipse cx="362.6" cy="309.4" rx="13.5" ry="4.2" fill="#7ccc14" opacity="0.85" filter="url(#blur3)"/>
<ellipse cx="362.6" cy="335.5" rx="9" ry="2.6" fill="#5cc41a" opacity="0.6" filter="url(#blur3)"/>
<ellipse cx="404.6" cy="309.4" rx="13.5" ry="4.2" fill="#7ccc14" opacity="0.85" filter="url(#blur3)"/>
<ellipse cx="404.6" cy="335.5" rx="9" ry="2.6" fill="#5cc41a" opacity="0.6" filter="url(#blur3)"/>
<ellipse cx="446.7" cy="309.4" rx="13.5" ry="4.2" fill="#7ccc14" opacity="0.85" filter="url(#blur3)"/>
<ellipse cx="446.7" cy="335.5" rx="9" ry="2.6" fill="#5cc41a" opacity="0.6" filter="url(#blur3)"/>
<ellipse cx="488.9" cy="309.4" rx="13.5" ry="4.2" fill="#7ccc14" opacity="0.85" filter="url(#blur3)"/>
<ellipse cx="488.9" cy="335.5" rx="9" ry="2.6" fill="#5cc41a" opacity="0.6" filter="url(#blur3)"/>
<ellipse cx="341.2" cy="321.9" rx="6" ry="4.5" fill="#7ccc14" opacity="0.7" filter="url(#blur3)"/>
<ellipse cx="383.7" cy="321.9" rx="6" ry="4.5" fill="#7ccc14" opacity="0.7" filter="url(#blur3)"/>
<ellipse cx="425.6" cy="321.9" rx="6" ry="4.5" fill="#7ccc14" opacity="0.7" filter="url(#blur3)"/>
<ellipse cx="467.8" cy="321.9" rx="6" ry="4.5" fill="#7ccc14" opacity="0.7" filter="url(#blur3)"/>
<g filter="url(#blur1)"><ellipse cx="320.0" cy="321.8" rx="12.6" ry="6.3" fill="#0a1a66"/><ellipse cx="362.6" cy="321.8" rx="12.6" ry="6.3" fill="#0a1a66"/><ellipse cx="404.6" cy="321.8" rx="12.6" ry="6.3" fill="#0a1a66"/><ellipse cx="446.7" cy="321.8" rx="12.6" ry="6.3" fill="#0a1a66"/><ellipse cx="488.9" cy="321.8" rx="12.6" ry="6.3" fill="#0a1a66"/><ellipse cx="341.2" cy="312.5" rx="3.4" ry="2.2" fill="#0d4a70"/><ellipse cx="341.2" cy="332.6" rx="5.8" ry="3.4" fill="#0a1a66"/><ellipse cx="383.7" cy="312.5" rx="3.4" ry="2.2" fill="#0d4a70"/><ellipse cx="383.7" cy="332.6" rx="5.8" ry="3.4" fill="#0a1a66"/><ellipse cx="425.6" cy="312.5" rx="3.4" ry="2.2" fill="#0d4a70"/><ellipse cx="425.6" cy="332.6" rx="5.8" ry="3.4" fill="#0a1a66"/><ellipse cx="467.8" cy="312.5" rx="3.4" ry="2.2" fill="#0d4a70"/><ellipse cx="467.8" cy="332.6" rx="5.8" ry="3.4" fill="#0a1a66"/></g>
<g filter="url(#soft)"><ellipse cx="320.0" cy="321.8" rx="7.0" ry="2.5" fill="#01020a"/><ellipse cx="362.6" cy="321.8" rx="7.0" ry="2.5" fill="#01020a"/><ellipse cx="404.6" cy="321.8" rx="7.0" ry="2.5" fill="#01020a"/><ellipse cx="446.7" cy="321.8" rx="7.0" ry="2.5" fill="#01020a"/><ellipse cx="488.9" cy="321.8" rx="7.0" ry="2.5" fill="#01020a"/><ellipse cx="341.2" cy="332.6" rx="2.8" ry="1.4" fill="#040830"/><ellipse cx="383.7" cy="332.6" rx="2.8" ry="1.4" fill="#040830"/><ellipse cx="425.6" cy="332.6" rx="2.8" ry="1.4" fill="#040830"/><ellipse cx="467.8" cy="332.6" rx="2.8" ry="1.4" fill="#040830"/></g>
<ellipse cx="320.0" cy="309.3" rx="9.2" ry="2.0" fill="#dcc406" opacity="0.95" filter="url(#soft)"/>
<ellipse cx="362.6" cy="309.3" rx="9.2" ry="2.0" fill="#dcc406" opacity="0.95" filter="url(#soft)"/>
<ellipse cx="404.6" cy="309.3" rx="9.2" ry="2.0" fill="#dcc406" opacity="0.95" filter="url(#soft)"/>
<ellipse cx="446.7" cy="309.3" rx="9.2" ry="2.0" fill="#dcc406" opacity="0.95" filter="url(#soft)"/>
<ellipse cx="488.9" cy="309.3" rx="9.2" ry="2.0" fill="#dcc406" opacity="0.95" filter="url(#soft)"/>
<ellipse cx="341.2" cy="321.9" rx="3.8" ry="3.1" fill="#eabc10" filter="url(#soft)"/>
<ellipse cx="383.7" cy="321.9" rx="3.8" ry="3.1" fill="#eabc10" filter="url(#soft)"/>
<ellipse cx="425.6" cy="321.9" rx="3.8" ry="3.1" fill="#eabc10" filter="url(#soft)"/>
<ellipse cx="467.8" cy="321.9" rx="3.8" ry="3.1" fill="#eabc10" filter="url(#soft)"/>
<line x1="405.2" y1="288.2" x2="405.2" y2="355.6" stroke="#a8a8c0" stroke-width="0.7" opacity="0.35"/>
</g>
<clipPath id="eyeclip3"><rect x="325.6" y="362.6" width="158.0" height="67.0"/></clipPath>
<linearGradient id="e3g" gradientUnits="userSpaceOnUse" x1="0" y1="362.6" x2="0" y2="429.6">
<stop offset="0" stop-color="#01020a"/>
<stop offset="0.150" stop-color="#02040f"/>
<stop offset="0.175" stop-color="#0a1670"/>
<stop offset="0.210" stop-color="#137a3c"/>
<stop offset="0.250" stop-color="#179c20"/>
<stop offset="0.380" stop-color="#1aa41a"/>
<stop offset="0.480" stop-color="#17941c"/>
<stop offset="0.650" stop-color="#14822a"/>
<stop offset="0.700" stop-color="#106c3c"/>
<stop offset="0.775" stop-color="#0c3270"/>
<stop offset="0.825" stop-color="#0a1a6a"/>
<stop offset="0.865" stop-color="#03061a"/>
<stop offset="1" stop-color="#01020a"/>
</linearGradient>
<g clip-path="url(#eyeclip3)">
<rect x="325.6" y="362.6" width="158.0" height="67.0" fill="url(#e3g)"/>
<g filter="url(#blur2)"><ellipse cx="339.3" cy="393.3" rx="11" ry="3.2" fill="#0c2a70" opacity="0.8"/><ellipse cx="400" cy="393.6" rx="12" ry="3.2" fill="#0c2a70" opacity="0.8"/><ellipse cx="465.5" cy="393.6" rx="10.5" ry="3.2" fill="#0c2a70" opacity="0.8"/><ellipse cx="370" cy="403.2" rx="13" ry="4.0" fill="#0c2a70" opacity="0.9"/><ellipse cx="434" cy="403" rx="14" ry="4.0" fill="#0c2a70" opacity="0.9"/><ellipse cx="370" cy="384.6" rx="8" ry="2.2" fill="#0c2a70" opacity="0.4"/><ellipse cx="436" cy="384.6" rx="8" ry="2.2" fill="#0c2a70" opacity="0.4"/></g>
<ellipse cx="370.5" cy="393.2" rx="6" ry="2" fill="#c8c820" opacity="0.7" filter="url(#blur1)"/>
<ellipse cx="434.5" cy="393.2" rx="6" ry="2" fill="#c8c820" opacity="0.7" filter="url(#blur1)"/>
<ellipse cx="340.5" cy="382.7" rx="5" ry="1.5" fill="#c8c820" opacity="0.3" filter="url(#blur1)"/>
<ellipse cx="402.8" cy="382.7" rx="5" ry="1.5" fill="#c8c820" opacity="0.3" filter="url(#blur1)"/>
<line x1="405.2" y1="362.6" x2="405.2" y2="429.6" stroke="#a8a8c0" stroke-width="0.7" opacity="0.35"/>
</g>
<text x="330.8" y="225.3" font-size="8.4" font-weight="bold" fill="#d41c3c" textLength="32.4" lengthAdjust="spacingAndGlyphs">1.0 Gb/s</text>
<text x="330.6" y="299.4" font-size="8.4" font-weight="bold" fill="#d41c3c" textLength="32.8" lengthAdjust="spacingAndGlyphs">1.5 Gb/s</text>
<text x="330.2" y="373.5" font-size="8.4" font-weight="bold" fill="#d41c3c" textLength="32.8" lengthAdjust="spacingAndGlyphs">2.0 Gb/s</text>
<text x="327.8" y="278.9" font-size="8.2" font-weight="bold" fill="#f4f4f4" textLength="35.6" lengthAdjust="spacingAndGlyphs">@ 40 mA</text>
<text x="327.8" y="352.5" font-size="8.2" font-weight="bold" fill="#f4f4f4" textLength="35.6" lengthAdjust="spacingAndGlyphs">@ 40 mA</text>
<text x="327.8" y="426.7" font-size="8.2" font-weight="bold" fill="#f4f4f4" textLength="35.6" lengthAdjust="spacingAndGlyphs">@ 40 mA</text>
<text x="432.8" y="279.0" font-size="8.2" font-weight="bold" fill="#f4f4f4" textLength="48.3" lengthAdjust="spacingAndGlyphs">250.0 ps/div</text>
<text x="432.6" y="352.6" font-size="8.2" font-weight="bold" fill="#f4f4f4" textLength="48.3" lengthAdjust="spacingAndGlyphs">250.0 ps/div</text>
<text x="432.1" y="426.7" font-size="8.2" font-weight="bold" fill="#f4f4f4" textLength="49" lengthAdjust="spacingAndGlyphs">125.0 ps/div</text>
</svg></body></html>
